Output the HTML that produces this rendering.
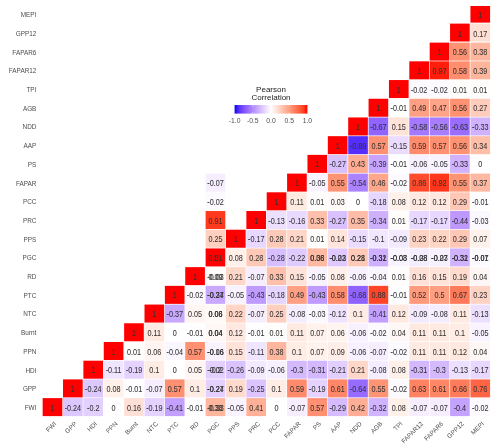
<!DOCTYPE html>
<html><head><meta charset="utf-8"><style>
html,body{margin:0;padding:0;background:#fff;}
svg{display:block;will-change:transform;}
text{font-family:"Liberation Sans",sans-serif;}
.v{font-size:8.3px;fill:#333;stroke:#333;stroke-width:0.06px;text-anchor:middle;}
.ax{font-size:6.4px;fill:#4d4d4d;}
.lg{font-size:6.8px;fill:#4d4d4d;text-anchor:middle;}
.lt{font-size:8px;fill:#222;text-anchor:middle;}
</style></head><body>
<svg width="500" height="446" viewBox="0 0 500 446">
<defs><linearGradient id="g" x1="0" x2="1" y1="0" y2="0"><stop offset="0.000" stop-color="#0000ff"/><stop offset="0.050" stop-color="#502bff"/><stop offset="0.100" stop-color="#7145ff"/><stop offset="0.150" stop-color="#8a5dff"/><stop offset="0.200" stop-color="#a074ff"/><stop offset="0.250" stop-color="#b38bff"/><stop offset="0.300" stop-color="#c4a2ff"/><stop offset="0.350" stop-color="#d4b9ff"/><stop offset="0.400" stop-color="#e3d0ff"/><stop offset="0.450" stop-color="#f2e7ff"/><stop offset="0.500" stop-color="#ffffff"/><stop offset="0.550" stop-color="#ffece5"/><stop offset="0.600" stop-color="#ffd9cb"/><stop offset="0.650" stop-color="#ffc6b2"/><stop offset="0.700" stop-color="#ffb299"/><stop offset="0.750" stop-color="#ff9e81"/><stop offset="0.800" stop-color="#ff8969"/><stop offset="0.850" stop-color="#ff7352"/><stop offset="0.900" stop-color="#ff5b3a"/><stop offset="0.950" stop-color="#ff3e22"/><stop offset="1.000" stop-color="#ff0000"/></linearGradient></defs>
<rect x="470.42" y="6.00" width="19.67" height="16.60" fill="#ff0000"/><text transform="translate(480.26,17.80) scale(0.87,1)" class="v">1</text><rect x="450.05" y="23.60" width="19.67" height="17.90" fill="#ff0000"/><text transform="translate(459.89,36.51) scale(0.87,1)" class="v">1</text><rect x="470.42" y="23.60" width="19.67" height="17.90" fill="#ffdfd3"/><text transform="translate(480.26,36.51) scale(0.87,1)" class="v">0.17</text><rect x="429.68" y="42.62" width="19.67" height="18.01" fill="#ff0000"/><text transform="translate(439.52,55.22) scale(0.87,1)" class="v">1</text><rect x="450.05" y="42.62" width="19.67" height="18.01" fill="#ff9273"/><text transform="translate(459.89,55.22) scale(0.87,1)" class="v">0.56</text><rect x="470.42" y="42.62" width="19.67" height="18.01" fill="#ffb69e"/><text transform="translate(480.26,55.22) scale(0.87,1)" class="v">0.38</text><rect x="409.31" y="61.33" width="19.67" height="18.01" fill="#ff0000"/><text transform="translate(419.15,73.93) scale(0.87,1)" class="v">1</text><rect x="429.68" y="61.33" width="19.67" height="18.01" fill="#ff1e0c"/><text transform="translate(439.52,73.93) scale(0.87,1)" class="v">0.97</text><rect x="450.05" y="61.33" width="19.67" height="18.01" fill="#ff8d6e"/><text transform="translate(459.89,73.93) scale(0.87,1)" class="v">0.58</text><rect x="470.42" y="61.33" width="19.67" height="18.01" fill="#ffb49c"/><text transform="translate(480.26,73.93) scale(0.87,1)" class="v">0.39</text><rect x="388.94" y="80.04" width="19.67" height="18.01" fill="#ff0000"/><text transform="translate(398.78,92.64) scale(0.87,1)" class="v">1</text><rect x="409.31" y="80.04" width="19.67" height="18.01" fill="#fcfaff"/><text transform="translate(419.15,92.64) scale(0.87,1)" class="v">-0.02</text><rect x="429.68" y="80.04" width="19.67" height="18.01" fill="#fcfaff"/><text transform="translate(439.52,92.64) scale(0.87,1)" class="v">-0.02</text><rect x="450.05" y="80.04" width="19.67" height="18.01" fill="#fffdfc"/><text transform="translate(459.89,92.64) scale(0.87,1)" class="v">0.01</text><rect x="470.42" y="80.04" width="19.67" height="18.01" fill="#fffdfc"/><text transform="translate(480.26,92.64) scale(0.87,1)" class="v">0.01</text><rect x="368.57" y="98.75" width="19.67" height="18.01" fill="#ff0000"/><text transform="translate(378.41,111.35) scale(0.87,1)" class="v">1</text><rect x="388.94" y="98.75" width="19.67" height="18.01" fill="#fefdff"/><text transform="translate(398.78,111.35) scale(0.87,1)" class="v">-0.01</text><rect x="409.31" y="98.75" width="19.67" height="18.01" fill="#ffa084"/><text transform="translate(419.15,111.35) scale(0.87,1)" class="v">0.49</text><rect x="429.68" y="98.75" width="19.67" height="18.01" fill="#ffa488"/><text transform="translate(439.52,111.35) scale(0.87,1)" class="v">0.47</text><rect x="450.05" y="98.75" width="19.67" height="18.01" fill="#ff9273"/><text transform="translate(459.89,111.35) scale(0.87,1)" class="v">0.56</text><rect x="470.42" y="98.75" width="19.67" height="18.01" fill="#ffcbba"/><text transform="translate(480.26,111.35) scale(0.87,1)" class="v">0.27</text><rect x="348.20" y="117.46" width="19.67" height="18.01" fill="#ff0000"/><text transform="translate(358.04,130.06) scale(0.87,1)" class="v">1</text><rect x="368.57" y="117.46" width="19.67" height="18.01" fill="#9164ff"/><text transform="translate(378.41,130.06) scale(0.87,1)" class="v">-0.67</text><rect x="388.94" y="117.46" width="19.67" height="18.01" fill="#ffe2d8"/><text transform="translate(398.78,130.06) scale(0.87,1)" class="v">0.15</text><rect x="409.31" y="117.46" width="19.67" height="18.01" fill="#a479ff"/><text transform="translate(419.15,130.06) scale(0.87,1)" class="v">-0.58</text><rect x="429.68" y="117.46" width="19.67" height="18.01" fill="#a87dff"/><text transform="translate(439.52,130.06) scale(0.87,1)" class="v">-0.56</text><rect x="450.05" y="117.46" width="19.67" height="18.01" fill="#9a6dff"/><text transform="translate(459.89,130.06) scale(0.87,1)" class="v">-0.63</text><rect x="470.42" y="117.46" width="19.67" height="18.01" fill="#d0b2ff"/><text transform="translate(480.26,130.06) scale(0.87,1)" class="v">-0.33</text><rect x="327.83" y="136.17" width="19.67" height="18.01" fill="#ff0000"/><text transform="translate(337.67,148.77) scale(0.87,1)" class="v">1</text><rect x="348.20" y="136.17" width="19.67" height="18.01" fill="#542eff"/><text transform="translate(358.04,148.77) scale(0.87,1)" class="v">-0.89</text><rect x="368.57" y="136.17" width="19.67" height="18.01" fill="#ff9071"/><text transform="translate(378.41,148.77) scale(0.87,1)" class="v">0.57</text><rect x="388.94" y="136.17" width="19.67" height="18.01" fill="#ebdcff"/><text transform="translate(398.78,148.77) scale(0.87,1)" class="v">-0.15</text><rect x="409.31" y="136.17" width="19.67" height="18.01" fill="#ff8b6c"/><text transform="translate(419.15,148.77) scale(0.87,1)" class="v">0.59</text><rect x="429.68" y="136.17" width="19.67" height="18.01" fill="#ff9071"/><text transform="translate(439.52,148.77) scale(0.87,1)" class="v">0.57</text><rect x="450.05" y="136.17" width="19.67" height="18.01" fill="#ff9273"/><text transform="translate(459.89,148.77) scale(0.87,1)" class="v">0.56</text><rect x="470.42" y="136.17" width="19.67" height="18.01" fill="#ffbea8"/><text transform="translate(480.26,148.77) scale(0.87,1)" class="v">0.34</text><rect x="307.46" y="154.88" width="19.67" height="18.01" fill="#ff0000"/><text transform="translate(317.30,167.48) scale(0.87,1)" class="v">1</text><rect x="327.83" y="154.88" width="19.67" height="18.01" fill="#d9c0ff"/><text transform="translate(337.67,167.48) scale(0.87,1)" class="v">-0.27</text><rect x="348.20" y="154.88" width="19.67" height="18.01" fill="#ffac92"/><text transform="translate(358.04,167.48) scale(0.87,1)" class="v">0.43</text><rect x="368.57" y="154.88" width="19.67" height="18.01" fill="#c6a4ff"/><text transform="translate(378.41,167.48) scale(0.87,1)" class="v">-0.39</text><rect x="388.94" y="154.88" width="19.67" height="18.01" fill="#fefdff"/><text transform="translate(398.78,167.48) scale(0.87,1)" class="v">-0.01</text><rect x="409.31" y="154.88" width="19.67" height="18.01" fill="#f7f1ff"/><text transform="translate(419.15,167.48) scale(0.87,1)" class="v">-0.06</text><rect x="429.68" y="154.88" width="19.67" height="18.01" fill="#f8f3ff"/><text transform="translate(439.52,167.48) scale(0.87,1)" class="v">-0.05</text><rect x="450.05" y="154.88" width="19.67" height="18.01" fill="#d0b2ff"/><text transform="translate(459.89,167.48) scale(0.87,1)" class="v">-0.33</text><rect x="470.42" y="154.88" width="19.67" height="18.01" fill="#ffffff"/><text transform="translate(480.26,167.48) scale(0.87,1)" class="v">0</text><rect x="287.09" y="173.59" width="19.67" height="18.01" fill="#ff0000"/><text transform="translate(296.93,186.19) scale(0.87,1)" class="v">1</text><rect x="307.46" y="173.59" width="19.67" height="18.01" fill="#f8f3ff"/><text transform="translate(317.30,186.19) scale(0.87,1)" class="v">-0.05</text><rect x="327.83" y="173.59" width="19.67" height="18.01" fill="#ff9475"/><text transform="translate(337.67,186.19) scale(0.87,1)" class="v">0.55</text><rect x="348.20" y="173.59" width="19.67" height="18.01" fill="#ab82ff"/><text transform="translate(358.04,186.19) scale(0.87,1)" class="v">-0.54</text><rect x="368.57" y="173.59" width="19.67" height="18.01" fill="#ffa68b"/><text transform="translate(378.41,186.19) scale(0.87,1)" class="v">0.46</text><rect x="388.94" y="173.59" width="19.67" height="18.01" fill="#fcfaff"/><text transform="translate(398.78,186.19) scale(0.87,1)" class="v">-0.02</text><rect x="409.31" y="173.59" width="19.67" height="18.01" fill="#ff4a2c"/><text transform="translate(419.15,186.19) scale(0.87,1)" class="v">0.86</text><rect x="429.68" y="173.59" width="19.67" height="18.01" fill="#ff361c"/><text transform="translate(439.52,186.19) scale(0.87,1)" class="v">0.92</text><rect x="450.05" y="173.59" width="19.67" height="18.01" fill="#ff9475"/><text transform="translate(459.89,186.19) scale(0.87,1)" class="v">0.55</text><rect x="470.42" y="173.59" width="19.67" height="18.01" fill="#ffb8a1"/><text transform="translate(480.26,186.19) scale(0.87,1)" class="v">0.37</text><rect x="266.72" y="192.30" width="19.67" height="18.01" fill="#ff0000"/><text transform="translate(276.56,204.90) scale(0.87,1)" class="v">1</text><rect x="287.09" y="192.30" width="19.67" height="18.01" fill="#ffeae2"/><text transform="translate(296.93,204.90) scale(0.87,1)" class="v">0.11</text><rect x="307.46" y="192.30" width="19.67" height="18.01" fill="#fffdfc"/><text transform="translate(317.30,204.90) scale(0.87,1)" class="v">0.01</text><rect x="327.83" y="192.30" width="19.67" height="18.01" fill="#fff9f7"/><text transform="translate(337.67,204.90) scale(0.87,1)" class="v">0.03</text><rect x="348.20" y="192.30" width="19.67" height="18.01" fill="#ffffff"/><text transform="translate(358.04,204.90) scale(0.87,1)" class="v">0</text><rect x="368.57" y="192.30" width="19.67" height="18.01" fill="#e6d5ff"/><text transform="translate(378.41,204.90) scale(0.87,1)" class="v">-0.18</text><rect x="388.94" y="192.30" width="19.67" height="18.01" fill="#fff0ea"/><text transform="translate(398.78,204.90) scale(0.87,1)" class="v">0.08</text><rect x="409.31" y="192.30" width="19.67" height="18.01" fill="#ffe8e0"/><text transform="translate(419.15,204.90) scale(0.87,1)" class="v">0.12</text><rect x="429.68" y="192.30" width="19.67" height="18.01" fill="#ffe8e0"/><text transform="translate(439.52,204.90) scale(0.87,1)" class="v">0.12</text><rect x="450.05" y="192.30" width="19.67" height="18.01" fill="#ffc7b5"/><text transform="translate(459.89,204.90) scale(0.87,1)" class="v">0.29</text><rect x="470.42" y="192.30" width="19.67" height="18.01" fill="#fefdff"/><text transform="translate(480.26,204.90) scale(0.87,1)" class="v">-0.01</text><rect x="246.35" y="211.01" width="19.67" height="18.01" fill="#ff0000"/><text transform="translate(256.19,223.61) scale(0.87,1)" class="v">1</text><rect x="266.72" y="211.01" width="19.67" height="18.01" fill="#ede0ff"/><text transform="translate(276.56,223.61) scale(0.87,1)" class="v">-0.13</text><rect x="287.09" y="211.01" width="19.67" height="18.01" fill="#e9d9ff"/><text transform="translate(296.93,223.61) scale(0.87,1)" class="v">-0.16</text><rect x="307.46" y="211.01" width="19.67" height="18.01" fill="#ffc0ab"/><text transform="translate(317.30,223.61) scale(0.87,1)" class="v">0.33</text><rect x="327.83" y="211.01" width="19.67" height="18.01" fill="#d9c0ff"/><text transform="translate(337.67,223.61) scale(0.87,1)" class="v">-0.27</text><rect x="348.20" y="211.01" width="19.67" height="18.01" fill="#ffbca6"/><text transform="translate(358.04,223.61) scale(0.87,1)" class="v">0.35</text><rect x="368.57" y="211.01" width="19.67" height="18.01" fill="#ceb0ff"/><text transform="translate(378.41,223.61) scale(0.87,1)" class="v">-0.34</text><rect x="388.94" y="211.01" width="19.67" height="18.01" fill="#fffdfc"/><text transform="translate(398.78,223.61) scale(0.87,1)" class="v">0.01</text><rect x="409.31" y="211.01" width="19.67" height="18.01" fill="#e8d7ff"/><text transform="translate(419.15,223.61) scale(0.87,1)" class="v">-0.17</text><rect x="429.68" y="211.01" width="19.67" height="18.01" fill="#e8d7ff"/><text transform="translate(439.52,223.61) scale(0.87,1)" class="v">-0.17</text><rect x="450.05" y="211.01" width="19.67" height="18.01" fill="#bd99ff"/><text transform="translate(459.89,223.61) scale(0.87,1)" class="v">-0.44</text><rect x="470.42" y="211.01" width="19.67" height="18.01" fill="#fbf8ff"/><text transform="translate(480.26,223.61) scale(0.87,1)" class="v">-0.03</text><rect x="225.98" y="229.72" width="19.67" height="18.01" fill="#ff0000"/><text transform="translate(235.81,242.32) scale(0.87,1)" class="v">1</text><rect x="246.35" y="229.72" width="19.67" height="18.01" fill="#e8d7ff"/><text transform="translate(256.19,242.32) scale(0.87,1)" class="v">-0.17</text><rect x="266.72" y="229.72" width="19.67" height="18.01" fill="#ffc9b7"/><text transform="translate(276.56,242.32) scale(0.87,1)" class="v">0.28</text><rect x="287.09" y="229.72" width="19.67" height="18.01" fill="#ffd7c9"/><text transform="translate(296.93,242.32) scale(0.87,1)" class="v">0.21</text><rect x="307.46" y="229.72" width="19.67" height="18.01" fill="#fffdfc"/><text transform="translate(317.30,242.32) scale(0.87,1)" class="v">0.01</text><rect x="327.83" y="229.72" width="19.67" height="18.01" fill="#ffe4db"/><text transform="translate(337.67,242.32) scale(0.87,1)" class="v">0.14</text><rect x="348.20" y="229.72" width="19.67" height="18.01" fill="#ebdcff"/><text transform="translate(358.04,242.32) scale(0.87,1)" class="v">-0.15</text><rect x="368.57" y="229.72" width="19.67" height="18.01" fill="#f2e7ff"/><text transform="translate(378.41,242.32) scale(0.87,1)" class="v">-0.1</text><rect x="388.94" y="229.72" width="19.67" height="18.01" fill="#f3eaff"/><text transform="translate(398.78,242.32) scale(0.87,1)" class="v">-0.09</text><rect x="409.31" y="229.72" width="19.67" height="18.01" fill="#ffd3c4"/><text transform="translate(419.15,242.32) scale(0.87,1)" class="v">0.23</text><rect x="429.68" y="229.72" width="19.67" height="18.01" fill="#ffd5c6"/><text transform="translate(439.52,242.32) scale(0.87,1)" class="v">0.22</text><rect x="450.05" y="229.72" width="19.67" height="18.01" fill="#ffc7b5"/><text transform="translate(459.89,242.32) scale(0.87,1)" class="v">0.29</text><rect x="470.42" y="229.72" width="19.67" height="18.01" fill="#fff2ed"/><text transform="translate(480.26,242.32) scale(0.87,1)" class="v">0.07</text><rect x="205.61" y="248.43" width="19.67" height="18.01" fill="#ff0000"/><text transform="translate(215.44,261.03) scale(0.87,1)" class="v">1</text><text transform="translate(215.44,261.03) scale(0.87,1)" class="v">0.81</text><rect x="225.98" y="248.43" width="19.67" height="18.01" fill="#fff0ea"/><text transform="translate(235.81,261.03) scale(0.87,1)" class="v">0.08</text><rect x="246.35" y="248.43" width="19.67" height="18.01" fill="#ffc9b7"/><text transform="translate(256.19,261.03) scale(0.87,1)" class="v">0.28</text><rect x="266.72" y="248.43" width="19.67" height="18.01" fill="#d7beff"/><text transform="translate(276.56,261.03) scale(0.87,1)" class="v">-0.28</text><rect x="287.09" y="248.43" width="19.67" height="18.01" fill="#e0cbff"/><text transform="translate(296.93,261.03) scale(0.87,1)" class="v">-0.22</text><rect x="307.46" y="248.43" width="19.67" height="18.01" fill="#ffbaa3"/><text transform="translate(317.30,261.03) scale(0.87,1)" class="v">0.08</text><text transform="translate(317.30,261.03) scale(0.87,1)" class="v">0.36</text><rect x="327.83" y="248.43" width="19.67" height="18.01" fill="#dfc9ff"/><text transform="translate(337.67,261.03) scale(0.87,1)" class="v">-0.02</text><text transform="translate(337.67,261.03) scale(0.87,1)" class="v">-0.23</text><rect x="348.20" y="248.43" width="19.67" height="18.01" fill="#ffc9b7"/><text transform="translate(358.04,261.03) scale(0.87,1)" class="v">0.28</text><text transform="translate(358.04,261.03) scale(0.87,1)" class="v">0.21</text><rect x="368.57" y="248.43" width="19.67" height="18.01" fill="#ceb0ff"/><text transform="translate(378.41,261.03) scale(0.87,1)" class="v">-0.32</text><text transform="translate(378.41,261.03) scale(0.87,1)" class="v">-0.31</text><rect x="388.94" y="248.43" width="19.67" height="18.01" fill="#f8f3ff"/><text transform="translate(398.78,261.03) scale(0.87,1)" class="v">-0.03</text><text transform="translate(398.78,261.03) scale(0.87,1)" class="v">-0.08</text><rect x="409.31" y="248.43" width="19.67" height="18.01" fill="#f4ecff"/><text transform="translate(419.15,261.03) scale(0.87,1)" class="v">-0.08</text><text transform="translate(419.15,261.03) scale(0.87,1)" class="v">-0.28</text><rect x="429.68" y="248.43" width="19.67" height="18.01" fill="#f7f1ff"/><text transform="translate(439.52,261.03) scale(0.87,1)" class="v">-0.07</text><text transform="translate(439.52,261.03) scale(0.87,1)" class="v">-0.23</text><rect x="450.05" y="248.43" width="19.67" height="18.01" fill="#d0b2ff"/><text transform="translate(459.89,261.03) scale(0.87,1)" class="v">-0.32</text><text transform="translate(459.89,261.03) scale(0.87,1)" class="v">-0.31</text><rect x="470.42" y="248.43" width="19.67" height="18.01" fill="#fcfaff"/><text transform="translate(480.26,261.03) scale(0.87,1)" class="v">-0.01</text><text transform="translate(480.26,261.03) scale(0.87,1)" class="v">-0.07</text><rect x="185.24" y="267.14" width="19.67" height="18.01" fill="#ff0000"/><text transform="translate(195.07,279.74) scale(0.87,1)" class="v">1</text><rect x="205.61" y="267.14" width="19.67" height="18.01" fill="#fffdfc"/><text transform="translate(215.44,279.74) scale(0.87,1)" class="v">-0.03</text><text transform="translate(215.44,279.74) scale(0.87,1)" class="v">0.09</text><rect x="225.98" y="267.14" width="19.67" height="18.01" fill="#ffd7c9"/><text transform="translate(235.81,279.74) scale(0.87,1)" class="v">0.21</text><rect x="246.35" y="267.14" width="19.67" height="18.01" fill="#f6eeff"/><text transform="translate(256.19,279.74) scale(0.87,1)" class="v">-0.07</text><rect x="266.72" y="267.14" width="19.67" height="18.01" fill="#ffc0ab"/><text transform="translate(276.56,279.74) scale(0.87,1)" class="v">0.33</text><rect x="287.09" y="267.14" width="19.67" height="18.01" fill="#ffe2d8"/><text transform="translate(296.93,279.74) scale(0.87,1)" class="v">0.15</text><rect x="307.46" y="267.14" width="19.67" height="18.01" fill="#f8f3ff"/><text transform="translate(317.30,279.74) scale(0.87,1)" class="v">-0.05</text><rect x="327.83" y="267.14" width="19.67" height="18.01" fill="#fff0ea"/><text transform="translate(337.67,279.74) scale(0.87,1)" class="v">0.08</text><rect x="348.20" y="267.14" width="19.67" height="18.01" fill="#f7f1ff"/><text transform="translate(358.04,279.74) scale(0.87,1)" class="v">-0.06</text><rect x="368.57" y="267.14" width="19.67" height="18.01" fill="#faf6ff"/><text transform="translate(378.41,279.74) scale(0.87,1)" class="v">-0.04</text><rect x="388.94" y="267.14" width="19.67" height="18.01" fill="#fffdfc"/><text transform="translate(398.78,279.74) scale(0.87,1)" class="v">0.01</text><rect x="409.31" y="267.14" width="19.67" height="18.01" fill="#ffe0d6"/><text transform="translate(419.15,279.74) scale(0.87,1)" class="v">0.16</text><rect x="429.68" y="267.14" width="19.67" height="18.01" fill="#ffe2d8"/><text transform="translate(439.52,279.74) scale(0.87,1)" class="v">0.15</text><rect x="450.05" y="267.14" width="19.67" height="18.01" fill="#ffdbce"/><text transform="translate(459.89,279.74) scale(0.87,1)" class="v">0.19</text><rect x="470.42" y="267.14" width="19.67" height="18.01" fill="#fff7f5"/><text transform="translate(480.26,279.74) scale(0.87,1)" class="v">0.04</text><rect x="164.87" y="285.85" width="19.67" height="18.01" fill="#ff0000"/><text transform="translate(174.70,298.45) scale(0.87,1)" class="v">1</text><rect x="185.24" y="285.85" width="19.67" height="18.01" fill="#fcfaff"/><text transform="translate(195.07,298.45) scale(0.87,1)" class="v">-0.02</text><rect x="205.61" y="285.85" width="19.67" height="18.01" fill="#c9a9ff"/><text transform="translate(215.44,298.45) scale(0.87,1)" class="v">-0.34</text><text transform="translate(215.44,298.45) scale(0.87,1)" class="v">-0.27</text><rect x="225.98" y="285.85" width="19.67" height="18.01" fill="#f8f3ff"/><text transform="translate(235.81,298.45) scale(0.87,1)" class="v">-0.05</text><rect x="246.35" y="285.85" width="19.67" height="18.01" fill="#bf9bff"/><text transform="translate(256.19,298.45) scale(0.87,1)" class="v">-0.43</text><rect x="266.72" y="285.85" width="19.67" height="18.01" fill="#e6d5ff"/><text transform="translate(276.56,298.45) scale(0.87,1)" class="v">-0.18</text><rect x="287.09" y="285.85" width="19.67" height="18.01" fill="#ffa084"/><text transform="translate(296.93,298.45) scale(0.87,1)" class="v">0.49</text><rect x="307.46" y="285.85" width="19.67" height="18.01" fill="#bf9bff"/><text transform="translate(317.30,298.45) scale(0.87,1)" class="v">-0.43</text><rect x="327.83" y="285.85" width="19.67" height="18.01" fill="#ff8d6e"/><text transform="translate(337.67,298.45) scale(0.87,1)" class="v">0.58</text><rect x="348.20" y="285.85" width="19.67" height="18.01" fill="#8f62ff"/><text transform="translate(358.04,298.45) scale(0.87,1)" class="v">-0.68</text><rect x="368.57" y="285.85" width="19.67" height="18.01" fill="#ff4427"/><text transform="translate(378.41,298.45) scale(0.87,1)" class="v">0.88</text><rect x="388.94" y="285.85" width="19.67" height="18.01" fill="#fefdff"/><text transform="translate(398.78,298.45) scale(0.87,1)" class="v">-0.01</text><rect x="409.31" y="285.85" width="19.67" height="18.01" fill="#ff9a7c"/><text transform="translate(419.15,298.45) scale(0.87,1)" class="v">0.52</text><rect x="429.68" y="285.85" width="19.67" height="18.01" fill="#ff9e81"/><text transform="translate(439.52,298.45) scale(0.87,1)" class="v">0.5</text><rect x="450.05" y="285.85" width="19.67" height="18.01" fill="#ff7a59"/><text transform="translate(459.89,298.45) scale(0.87,1)" class="v">0.67</text><rect x="470.42" y="285.85" width="19.67" height="18.01" fill="#ffd3c4"/><text transform="translate(480.26,298.45) scale(0.87,1)" class="v">0.23</text><rect x="144.50" y="304.56" width="19.67" height="18.01" fill="#ff0000"/><text transform="translate(154.34,317.16) scale(0.87,1)" class="v">1</text><rect x="164.87" y="304.56" width="19.67" height="18.01" fill="#c9a9ff"/><text transform="translate(174.70,317.16) scale(0.87,1)" class="v">-0.37</text><rect x="185.24" y="304.56" width="19.67" height="18.01" fill="#fff5f2"/><text transform="translate(195.07,317.16) scale(0.87,1)" class="v">0.05</text><rect x="205.61" y="304.56" width="19.67" height="18.01" fill="#fff9f7"/><text transform="translate(215.44,317.16) scale(0.87,1)" class="v">0.08</text><text transform="translate(215.44,317.16) scale(0.87,1)" class="v">0.06</text><rect x="225.98" y="304.56" width="19.67" height="18.01" fill="#ffd5c6"/><text transform="translate(235.81,317.16) scale(0.87,1)" class="v">0.22</text><rect x="246.35" y="304.56" width="19.67" height="18.01" fill="#f6eeff"/><text transform="translate(256.19,317.16) scale(0.87,1)" class="v">-0.07</text><rect x="266.72" y="304.56" width="19.67" height="18.01" fill="#ffcfbf"/><text transform="translate(276.56,317.16) scale(0.87,1)" class="v">0.25</text><rect x="287.09" y="304.56" width="19.67" height="18.01" fill="#f4ecff"/><text transform="translate(296.93,317.16) scale(0.87,1)" class="v">-0.08</text><rect x="307.46" y="304.56" width="19.67" height="18.01" fill="#fbf8ff"/><text transform="translate(317.30,317.16) scale(0.87,1)" class="v">-0.03</text><rect x="327.83" y="304.56" width="19.67" height="18.01" fill="#efe3ff"/><text transform="translate(337.67,317.16) scale(0.87,1)" class="v">-0.12</text><rect x="348.20" y="304.56" width="19.67" height="18.01" fill="#ffece5"/><text transform="translate(358.04,317.16) scale(0.87,1)" class="v">0.1</text><rect x="368.57" y="304.56" width="19.67" height="18.01" fill="#c3a0ff"/><text transform="translate(378.41,317.16) scale(0.87,1)" class="v">-0.41</text><rect x="388.94" y="304.56" width="19.67" height="18.01" fill="#ffe8e0"/><text transform="translate(398.78,317.16) scale(0.87,1)" class="v">0.12</text><rect x="409.31" y="304.56" width="19.67" height="18.01" fill="#f3eaff"/><text transform="translate(419.15,317.16) scale(0.87,1)" class="v">-0.09</text><rect x="429.68" y="304.56" width="19.67" height="18.01" fill="#f4ecff"/><text transform="translate(439.52,317.16) scale(0.87,1)" class="v">-0.08</text><rect x="450.05" y="304.56" width="19.67" height="18.01" fill="#ffeae2"/><text transform="translate(459.89,317.16) scale(0.87,1)" class="v">0.11</text><rect x="470.42" y="304.56" width="19.67" height="18.01" fill="#ede0ff"/><text transform="translate(480.26,317.16) scale(0.87,1)" class="v">-0.13</text><rect x="124.13" y="323.27" width="19.67" height="18.01" fill="#ff0000"/><text transform="translate(133.97,335.87) scale(0.87,1)" class="v">1</text><rect x="144.50" y="323.27" width="19.67" height="18.01" fill="#ffeae2"/><text transform="translate(154.34,335.87) scale(0.87,1)" class="v">0.11</text><rect x="164.87" y="323.27" width="19.67" height="18.01" fill="#ffffff"/><text transform="translate(174.70,335.87) scale(0.87,1)" class="v">0</text><rect x="185.24" y="323.27" width="19.67" height="18.01" fill="#fefdff"/><text transform="translate(195.07,335.87) scale(0.87,1)" class="v">-0.01</text><rect x="205.61" y="323.27" width="19.67" height="18.01" fill="#fff7f5"/><text transform="translate(215.44,335.87) scale(0.87,1)" class="v">0.04</text><text transform="translate(215.44,335.87) scale(0.87,1)" class="v">0.04</text><rect x="225.98" y="323.27" width="19.67" height="18.01" fill="#ffe8e0"/><text transform="translate(235.81,335.87) scale(0.87,1)" class="v">0.12</text><rect x="246.35" y="323.27" width="19.67" height="18.01" fill="#fefdff"/><text transform="translate(256.19,335.87) scale(0.87,1)" class="v">-0.01</text><rect x="266.72" y="323.27" width="19.67" height="18.01" fill="#fffdfc"/><text transform="translate(276.56,335.87) scale(0.87,1)" class="v">0.01</text><rect x="287.09" y="323.27" width="19.67" height="18.01" fill="#ffeae2"/><text transform="translate(296.93,335.87) scale(0.87,1)" class="v">0.11</text><rect x="307.46" y="323.27" width="19.67" height="18.01" fill="#fff2ed"/><text transform="translate(317.30,335.87) scale(0.87,1)" class="v">0.07</text><rect x="327.83" y="323.27" width="19.67" height="18.01" fill="#fff4ef"/><text transform="translate(337.67,335.87) scale(0.87,1)" class="v">0.06</text><rect x="348.20" y="323.27" width="19.67" height="18.01" fill="#f7f1ff"/><text transform="translate(358.04,335.87) scale(0.87,1)" class="v">-0.06</text><rect x="368.57" y="323.27" width="19.67" height="18.01" fill="#fcfaff"/><text transform="translate(378.41,335.87) scale(0.87,1)" class="v">-0.02</text><rect x="388.94" y="323.27" width="19.67" height="18.01" fill="#fff7f5"/><text transform="translate(398.78,335.87) scale(0.87,1)" class="v">0.04</text><rect x="409.31" y="323.27" width="19.67" height="18.01" fill="#ffeae2"/><text transform="translate(419.15,335.87) scale(0.87,1)" class="v">0.11</text><rect x="429.68" y="323.27" width="19.67" height="18.01" fill="#ffeae2"/><text transform="translate(439.52,335.87) scale(0.87,1)" class="v">0.11</text><rect x="450.05" y="323.27" width="19.67" height="18.01" fill="#ffece5"/><text transform="translate(459.89,335.87) scale(0.87,1)" class="v">0.1</text><rect x="470.42" y="323.27" width="19.67" height="18.01" fill="#f8f3ff"/><text transform="translate(480.26,335.87) scale(0.87,1)" class="v">-0.05</text><rect x="103.76" y="341.98" width="19.67" height="18.01" fill="#ff0000"/><text transform="translate(113.59,354.58) scale(0.87,1)" class="v">1</text><rect x="124.13" y="341.98" width="19.67" height="18.01" fill="#fffdfc"/><text transform="translate(133.97,354.58) scale(0.87,1)" class="v">0.01</text><rect x="144.50" y="341.98" width="19.67" height="18.01" fill="#fff4ef"/><text transform="translate(154.34,354.58) scale(0.87,1)" class="v">0.06</text><rect x="164.87" y="341.98" width="19.67" height="18.01" fill="#faf6ff"/><text transform="translate(174.70,354.58) scale(0.87,1)" class="v">-0.04</text><rect x="185.24" y="341.98" width="19.67" height="18.01" fill="#ff9071"/><text transform="translate(195.07,354.58) scale(0.87,1)" class="v">0.57</text><rect x="205.61" y="341.98" width="19.67" height="18.01" fill="#f8f3ff"/><text transform="translate(215.44,354.58) scale(0.87,1)" class="v">-0.06</text><text transform="translate(215.44,354.58) scale(0.87,1)" class="v">-0.16</text><rect x="225.98" y="341.98" width="19.67" height="18.01" fill="#ffe2d8"/><text transform="translate(235.81,354.58) scale(0.87,1)" class="v">0.15</text><rect x="246.35" y="341.98" width="19.67" height="18.01" fill="#f0e5ff"/><text transform="translate(256.19,354.58) scale(0.87,1)" class="v">-0.11</text><rect x="266.72" y="341.98" width="19.67" height="18.01" fill="#ffb69e"/><text transform="translate(276.56,354.58) scale(0.87,1)" class="v">0.38</text><rect x="287.09" y="341.98" width="19.67" height="18.01" fill="#ffece5"/><text transform="translate(296.93,354.58) scale(0.87,1)" class="v">0.1</text><rect x="307.46" y="341.98" width="19.67" height="18.01" fill="#fff2ed"/><text transform="translate(317.30,354.58) scale(0.87,1)" class="v">0.07</text><rect x="327.83" y="341.98" width="19.67" height="18.01" fill="#ffeee8"/><text transform="translate(337.67,354.58) scale(0.87,1)" class="v">0.09</text><rect x="348.20" y="341.98" width="19.67" height="18.01" fill="#f7f1ff"/><text transform="translate(358.04,354.58) scale(0.87,1)" class="v">-0.06</text><rect x="368.57" y="341.98" width="19.67" height="18.01" fill="#f6eeff"/><text transform="translate(378.41,354.58) scale(0.87,1)" class="v">-0.07</text><rect x="388.94" y="341.98" width="19.67" height="18.01" fill="#fcfaff"/><text transform="translate(398.78,354.58) scale(0.87,1)" class="v">-0.02</text><rect x="409.31" y="341.98" width="19.67" height="18.01" fill="#ffeae2"/><text transform="translate(419.15,354.58) scale(0.87,1)" class="v">0.11</text><rect x="429.68" y="341.98" width="19.67" height="18.01" fill="#ffeae2"/><text transform="translate(439.52,354.58) scale(0.87,1)" class="v">0.11</text><rect x="450.05" y="341.98" width="19.67" height="18.01" fill="#ffe8e0"/><text transform="translate(459.89,354.58) scale(0.87,1)" class="v">0.12</text><rect x="470.42" y="341.98" width="19.67" height="18.01" fill="#fff7f5"/><text transform="translate(480.26,354.58) scale(0.87,1)" class="v">0.04</text><rect x="83.39" y="360.69" width="19.67" height="18.01" fill="#ff0000"/><text transform="translate(93.22,373.29) scale(0.87,1)" class="v">1</text><rect x="103.76" y="360.69" width="19.67" height="18.01" fill="#f0e5ff"/><text transform="translate(113.59,373.29) scale(0.87,1)" class="v">-0.11</text><rect x="124.13" y="360.69" width="19.67" height="18.01" fill="#e5d2ff"/><text transform="translate(133.97,373.29) scale(0.87,1)" class="v">-0.19</text><rect x="144.50" y="360.69" width="19.67" height="18.01" fill="#ffece5"/><text transform="translate(154.34,373.29) scale(0.87,1)" class="v">0.1</text><rect x="164.87" y="360.69" width="19.67" height="18.01" fill="#ffffff"/><text transform="translate(174.70,373.29) scale(0.87,1)" class="v">0</text><rect x="185.24" y="360.69" width="19.67" height="18.01" fill="#fff5f2"/><text transform="translate(195.07,373.29) scale(0.87,1)" class="v">0.05</text><rect x="205.61" y="360.69" width="19.67" height="18.01" fill="#e3d0ff"/><text transform="translate(215.44,373.29) scale(0.87,1)" class="v">-0.02</text><text transform="translate(215.44,373.29) scale(0.87,1)" class="v">-0.2</text><rect x="225.98" y="360.69" width="19.67" height="18.01" fill="#dac2ff"/><text transform="translate(235.81,373.29) scale(0.87,1)" class="v">-0.26</text><rect x="246.35" y="360.69" width="19.67" height="18.01" fill="#f3eaff"/><text transform="translate(256.19,373.29) scale(0.87,1)" class="v">-0.09</text><rect x="266.72" y="360.69" width="19.67" height="18.01" fill="#f7f1ff"/><text transform="translate(276.56,373.29) scale(0.87,1)" class="v">-0.06</text><rect x="287.09" y="360.69" width="19.67" height="18.01" fill="#d4b9ff"/><text transform="translate(296.93,373.29) scale(0.87,1)" class="v">-0.3</text><rect x="307.46" y="360.69" width="19.67" height="18.01" fill="#d3b7ff"/><text transform="translate(317.30,373.29) scale(0.87,1)" class="v">-0.31</text><rect x="327.83" y="360.69" width="19.67" height="18.01" fill="#e2ceff"/><text transform="translate(337.67,373.29) scale(0.87,1)" class="v">-0.21</text><rect x="348.20" y="360.69" width="19.67" height="18.01" fill="#ffd7c9"/><text transform="translate(358.04,373.29) scale(0.87,1)" class="v">0.21</text><rect x="368.57" y="360.69" width="19.67" height="18.01" fill="#f4ecff"/><text transform="translate(378.41,373.29) scale(0.87,1)" class="v">-0.08</text><rect x="388.94" y="360.69" width="19.67" height="18.01" fill="#fff0ea"/><text transform="translate(398.78,373.29) scale(0.87,1)" class="v">0.08</text><rect x="409.31" y="360.69" width="19.67" height="18.01" fill="#d3b7ff"/><text transform="translate(419.15,373.29) scale(0.87,1)" class="v">-0.31</text><rect x="429.68" y="360.69" width="19.67" height="18.01" fill="#d4b9ff"/><text transform="translate(439.52,373.29) scale(0.87,1)" class="v">-0.3</text><rect x="450.05" y="360.69" width="19.67" height="18.01" fill="#ede0ff"/><text transform="translate(459.89,373.29) scale(0.87,1)" class="v">-0.13</text><rect x="470.42" y="360.69" width="19.67" height="18.01" fill="#e8d7ff"/><text transform="translate(480.26,373.29) scale(0.87,1)" class="v">-0.17</text><rect x="63.02" y="379.40" width="19.67" height="18.01" fill="#ff0000"/><text transform="translate(72.86,392.00) scale(0.87,1)" class="v">1</text><rect x="83.39" y="379.40" width="19.67" height="18.01" fill="#ddc7ff"/><text transform="translate(93.22,392.00) scale(0.87,1)" class="v">-0.24</text><rect x="103.76" y="379.40" width="19.67" height="18.01" fill="#fff0ea"/><text transform="translate(113.59,392.00) scale(0.87,1)" class="v">0.08</text><rect x="124.13" y="379.40" width="19.67" height="18.01" fill="#fefdff"/><text transform="translate(133.97,392.00) scale(0.87,1)" class="v">-0.01</text><rect x="144.50" y="379.40" width="19.67" height="18.01" fill="#f6eeff"/><text transform="translate(154.34,392.00) scale(0.87,1)" class="v">-0.07</text><rect x="164.87" y="379.40" width="19.67" height="18.01" fill="#ff9071"/><text transform="translate(174.70,392.00) scale(0.87,1)" class="v">0.57</text><rect x="185.24" y="379.40" width="19.67" height="18.01" fill="#ffece5"/><text transform="translate(195.07,392.00) scale(0.87,1)" class="v">0.1</text><rect x="205.61" y="379.40" width="19.67" height="18.01" fill="#e3d0ff"/><text transform="translate(215.44,392.00) scale(0.87,1)" class="v">-0.24</text><text transform="translate(215.44,392.00) scale(0.87,1)" class="v">-0.27</text><rect x="225.98" y="379.40" width="19.67" height="18.01" fill="#ffdbce"/><text transform="translate(235.81,392.00) scale(0.87,1)" class="v">0.19</text><rect x="246.35" y="379.40" width="19.67" height="18.01" fill="#dcc4ff"/><text transform="translate(256.19,392.00) scale(0.87,1)" class="v">-0.25</text><rect x="266.72" y="379.40" width="19.67" height="18.01" fill="#ffece5"/><text transform="translate(276.56,392.00) scale(0.87,1)" class="v">0.1</text><rect x="287.09" y="379.40" width="19.67" height="18.01" fill="#ff8b6c"/><text transform="translate(296.93,392.00) scale(0.87,1)" class="v">0.59</text><rect x="307.46" y="379.40" width="19.67" height="18.01" fill="#e5d2ff"/><text transform="translate(317.30,392.00) scale(0.87,1)" class="v">-0.19</text><rect x="327.83" y="379.40" width="19.67" height="18.01" fill="#ff8767"/><text transform="translate(337.67,392.00) scale(0.87,1)" class="v">0.61</text><rect x="348.20" y="379.40" width="19.67" height="18.01" fill="#976bff"/><text transform="translate(358.04,392.00) scale(0.87,1)" class="v">-0.64</text><rect x="368.57" y="379.40" width="19.67" height="18.01" fill="#ff9475"/><text transform="translate(378.41,392.00) scale(0.87,1)" class="v">0.55</text><rect x="388.94" y="379.40" width="19.67" height="18.01" fill="#fcfaff"/><text transform="translate(398.78,392.00) scale(0.87,1)" class="v">-0.02</text><rect x="409.31" y="379.40" width="19.67" height="18.01" fill="#ff8362"/><text transform="translate(419.15,392.00) scale(0.87,1)" class="v">0.63</text><rect x="429.68" y="379.40" width="19.67" height="18.01" fill="#ff8767"/><text transform="translate(439.52,392.00) scale(0.87,1)" class="v">0.61</text><rect x="450.05" y="379.40" width="19.67" height="18.01" fill="#ff7c5b"/><text transform="translate(459.89,392.00) scale(0.87,1)" class="v">0.66</text><rect x="470.42" y="379.40" width="19.67" height="18.01" fill="#ff6544"/><text transform="translate(480.26,392.00) scale(0.87,1)" class="v">0.76</text><rect x="42.65" y="398.11" width="19.67" height="18.01" fill="#ff0000"/><text transform="translate(52.48,410.71) scale(0.87,1)" class="v">1</text><rect x="63.02" y="398.11" width="19.67" height="18.01" fill="#ddc7ff"/><text transform="translate(72.86,410.71) scale(0.87,1)" class="v">-0.24</text><rect x="83.39" y="398.11" width="19.67" height="18.01" fill="#e3d0ff"/><text transform="translate(93.22,410.71) scale(0.87,1)" class="v">-0.2</text><rect x="103.76" y="398.11" width="19.67" height="18.01" fill="#ffffff"/><text transform="translate(113.59,410.71) scale(0.87,1)" class="v">0</text><rect x="124.13" y="398.11" width="19.67" height="18.01" fill="#ffe0d6"/><text transform="translate(133.97,410.71) scale(0.87,1)" class="v">0.16</text><rect x="144.50" y="398.11" width="19.67" height="18.01" fill="#e5d2ff"/><text transform="translate(154.34,410.71) scale(0.87,1)" class="v">-0.19</text><rect x="164.87" y="398.11" width="19.67" height="18.01" fill="#c3a0ff"/><text transform="translate(174.70,410.71) scale(0.87,1)" class="v">-0.41</text><rect x="185.24" y="398.11" width="19.67" height="18.01" fill="#fefdff"/><text transform="translate(195.07,410.71) scale(0.87,1)" class="v">-0.01</text><rect x="205.61" y="398.11" width="19.67" height="18.01" fill="#ffb69e"/><text transform="translate(215.44,410.71) scale(0.87,1)" class="v">0.38</text><text transform="translate(215.44,410.71) scale(0.87,1)" class="v">-0.33</text><rect x="225.98" y="398.11" width="19.67" height="18.01" fill="#f8f3ff"/><text transform="translate(235.81,410.71) scale(0.87,1)" class="v">-0.05</text><rect x="246.35" y="398.11" width="19.67" height="18.01" fill="#ffb097"/><text transform="translate(256.19,410.71) scale(0.87,1)" class="v">0.41</text><rect x="266.72" y="398.11" width="19.67" height="18.01" fill="#ffffff"/><text transform="translate(276.56,410.71) scale(0.87,1)" class="v">0</text><rect x="287.09" y="398.11" width="19.67" height="18.01" fill="#f6eeff"/><text transform="translate(296.93,410.71) scale(0.87,1)" class="v">-0.07</text><rect x="307.46" y="398.11" width="19.67" height="18.01" fill="#ff9071"/><text transform="translate(317.30,410.71) scale(0.87,1)" class="v">0.57</text><rect x="327.83" y="398.11" width="19.67" height="18.01" fill="#d6bbff"/><text transform="translate(337.67,410.71) scale(0.87,1)" class="v">-0.29</text><rect x="348.20" y="398.11" width="19.67" height="18.01" fill="#ffae95"/><text transform="translate(358.04,410.71) scale(0.87,1)" class="v">0.42</text><rect x="368.57" y="398.11" width="19.67" height="18.01" fill="#d1b4ff"/><text transform="translate(378.41,410.71) scale(0.87,1)" class="v">-0.32</text><rect x="388.94" y="398.11" width="19.67" height="18.01" fill="#fff0ea"/><text transform="translate(398.78,410.71) scale(0.87,1)" class="v">0.08</text><rect x="409.31" y="398.11" width="19.67" height="18.01" fill="#f6eeff"/><text transform="translate(419.15,410.71) scale(0.87,1)" class="v">-0.07</text><rect x="429.68" y="398.11" width="19.67" height="18.01" fill="#f6eeff"/><text transform="translate(439.52,410.71) scale(0.87,1)" class="v">-0.07</text><rect x="450.05" y="398.11" width="19.67" height="18.01" fill="#c4a2ff"/><text transform="translate(459.89,410.71) scale(0.87,1)" class="v">-0.4</text><rect x="470.42" y="398.11" width="19.67" height="18.01" fill="#fcfaff"/><text transform="translate(480.26,410.71) scale(0.87,1)" class="v">-0.02</text><rect x="205.61" y="173.59" width="19.67" height="18.01" fill="#f6eeff"/><text transform="translate(215.44,186.19) scale(0.87,1)" class="v">-0.07</text><rect x="205.61" y="192.30" width="19.67" height="18.01" fill="#fcfaff"/><text transform="translate(215.44,204.90) scale(0.87,1)" class="v">-0.02</text><rect x="205.61" y="211.01" width="19.67" height="18.01" fill="#ff3a1f"/><text transform="translate(215.44,223.61) scale(0.87,1)" class="v">0.91</text><rect x="205.61" y="229.72" width="19.67" height="18.01" fill="#ffcfbf"/><text transform="translate(215.44,242.32) scale(0.87,1)" class="v">0.25</text>
<text x="36.4" y="17.11" class="ax" text-anchor="end">MEPI</text><text x="36.4" y="35.82" class="ax" text-anchor="end">GPP12</text><text x="36.4" y="54.52" class="ax" text-anchor="end">FAPAR6</text><text x="36.4" y="73.24" class="ax" text-anchor="end">FAPAR12</text><text x="36.4" y="91.95" class="ax" text-anchor="end">TPI</text><text x="36.4" y="110.66" class="ax" text-anchor="end">AGB</text><text x="36.4" y="129.37" class="ax" text-anchor="end">NDD</text><text x="36.4" y="148.07" class="ax" text-anchor="end">AAP</text><text x="36.4" y="166.78" class="ax" text-anchor="end">PS</text><text x="36.4" y="185.50" class="ax" text-anchor="end">FAPAR</text><text x="36.4" y="204.21" class="ax" text-anchor="end">PCC</text><text x="36.4" y="222.91" class="ax" text-anchor="end">PRC</text><text x="36.4" y="241.62" class="ax" text-anchor="end">PPS</text><text x="36.4" y="260.33" class="ax" text-anchor="end">PGC</text><text x="36.4" y="279.05" class="ax" text-anchor="end">RD</text><text x="36.4" y="297.76" class="ax" text-anchor="end">PTC</text><text x="36.4" y="316.47" class="ax" text-anchor="end">NTC</text><text x="36.4" y="335.18" class="ax" text-anchor="end">Burnt</text><text x="36.4" y="353.89" class="ax" text-anchor="end">PPN</text><text x="36.4" y="372.60" class="ax" text-anchor="end">HDI</text><text x="36.4" y="391.31" class="ax" text-anchor="end">GPP</text><text x="36.4" y="410.02" class="ax" text-anchor="end">FWI</text>
<text class="ax" text-anchor="end" transform="translate(56.78,424.2) rotate(-45)">FWI</text><text class="ax" text-anchor="end" transform="translate(77.16,424.2) rotate(-45)">GPP</text><text class="ax" text-anchor="end" transform="translate(97.52,424.2) rotate(-45)">HDI</text><text class="ax" text-anchor="end" transform="translate(117.89,424.2) rotate(-45)">PPN</text><text class="ax" text-anchor="end" transform="translate(138.27,424.2) rotate(-45)">Burnt</text><text class="ax" text-anchor="end" transform="translate(158.64,424.2) rotate(-45)">NTC</text><text class="ax" text-anchor="end" transform="translate(179.00,424.2) rotate(-45)">PTC</text><text class="ax" text-anchor="end" transform="translate(199.38,424.2) rotate(-45)">RD</text><text class="ax" text-anchor="end" transform="translate(219.75,424.2) rotate(-45)">PGC</text><text class="ax" text-anchor="end" transform="translate(240.12,424.2) rotate(-45)">PPS</text><text class="ax" text-anchor="end" transform="translate(260.49,424.2) rotate(-45)">PRC</text><text class="ax" text-anchor="end" transform="translate(280.86,424.2) rotate(-45)">PCC</text><text class="ax" text-anchor="end" transform="translate(301.23,424.2) rotate(-45)">FAPAR</text><text class="ax" text-anchor="end" transform="translate(321.60,424.2) rotate(-45)">PS</text><text class="ax" text-anchor="end" transform="translate(341.97,424.2) rotate(-45)">AAP</text><text class="ax" text-anchor="end" transform="translate(362.34,424.2) rotate(-45)">NDD</text><text class="ax" text-anchor="end" transform="translate(382.71,424.2) rotate(-45)">AGB</text><text class="ax" text-anchor="end" transform="translate(403.08,424.2) rotate(-45)">TPI</text><text class="ax" text-anchor="end" transform="translate(423.45,424.2) rotate(-45)">FAPAR12</text><text class="ax" text-anchor="end" transform="translate(443.82,424.2) rotate(-45)">FAPAR6</text><text class="ax" text-anchor="end" transform="translate(464.19,424.2) rotate(-45)">GPP12</text><text class="ax" text-anchor="end" transform="translate(484.56,424.2) rotate(-45)">MEPI</text>
<text x="271" y="92" class="lt">Pearson</text>
<text x="271" y="100" class="lt">Correlation</text>
<rect x="234.6" y="105" width="72.8" height="8.6" fill="url(#g)"/>
<line x1="252.8" x2="252.8" y1="105" y2="106.5" stroke="#fff" stroke-width="0.5"/>
<line x1="252.8" x2="252.8" y1="112.1" y2="113.6" stroke="#fff" stroke-width="0.5"/>
<line x1="271" x2="271" y1="105" y2="106.5" stroke="#fff" stroke-width="0.5"/>
<line x1="271" x2="271" y1="112.1" y2="113.6" stroke="#fff" stroke-width="0.5"/>
<line x1="289.2" x2="289.2" y1="105" y2="106.5" stroke="#fff" stroke-width="0.5"/>
<line x1="289.2" x2="289.2" y1="112.1" y2="113.6" stroke="#fff" stroke-width="0.5"/>
<text x="234.6" y="123.0" class="lg">-1.0</text>
<text x="252.8" y="123.0" class="lg">-0.5</text>
<text x="271" y="123.0" class="lg">0.0</text>
<text x="289.2" y="123.0" class="lg">0.5</text>
<text x="307.4" y="123.0" class="lg">1.0</text>
</svg>
</body></html>
